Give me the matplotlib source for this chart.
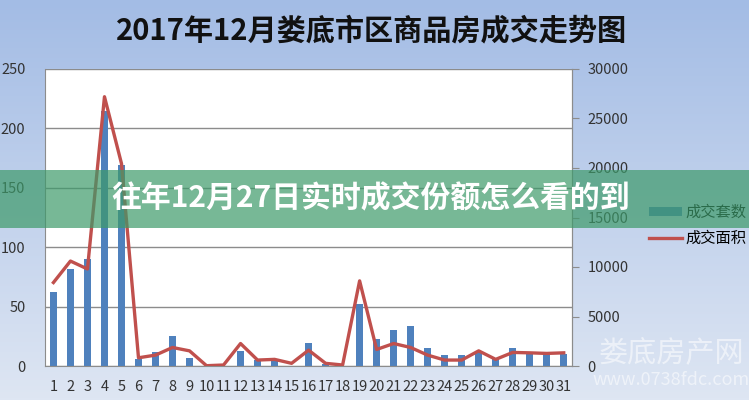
import numpy as np
import matplotlib
matplotlib.use("Agg")
import matplotlib.pyplot as plt
from matplotlib.patches import Rectangle

plt.rcParams['font.family'] = ['Noto Sans CJK SC', 'DejaVu Sans']

# datos
dias = list(range(1, 32))
etiquetas = [str(d) for d in dias]
conjuntos = [62, 82, 90, 215, 169, 6, 12, 25, 7, 0, 0, 13, 5, 4, 0, 19, 2, 0,
             52, 23, 30, 34, 15, 9, 9, 12, 6, 15, 10, 10, 10]
area = [8430, 10600, 9800, 27200, 20450, 830, 1100, 1870, 1530, 30, 100, 2270,
        600, 670, 270, 1600, 270, 100, 8600, 1670, 2270, 1870, 1100, 600, 600,
        1530, 670, 1370, 1330, 1270, 1330]

titulo = "2017年12月娄底市区商品房成交走势图"
banda = "往年12月27日实时成交份额怎么看的到"

fig = plt.figure(figsize=(7.49, 4.0), dpi=100)

# fondo degradado azul
bg = fig.add_axes([0, 0, 1, 1], zorder=-10)
top = np.array([163, 188, 229]) / 255
bot = np.array([222, 230, 243]) / 255
t = np.linspace(0, 1, 200)[:, None, None]
grad = top * (1 - t) + bot * t
bg.imshow(np.repeat(grad, 2, axis=1), aspect="auto", extent=[0, 1, 0, 1])
bg.axis("off")

ax = fig.add_axes([0.060, 0.085, 0.704, 0.7425])
ax.set_facecolor("white")
ax.bar(dias, conjuntos, width=0.42, color="#4F81BD", label="成交套数", zorder=2)
ax.set_ylim(0, 250)
ax.set_yticks(range(0, 251, 50))
ax.set_xlim(0.5, 31.5)
ax.set_xticks(dias)
ax.set_xticklabels(etiquetas)
ax.grid(axis="y", color="#8c8c8c", linewidth=1, zorder=0)
ax.tick_params(axis="y", length=0, labelsize=10.5, labelcolor="#333333", pad=14)
ax.tick_params(axis="x", length=0, labelsize=10.5, labelcolor="#333333", pad=10)
ax.spines["top"].set_visible(False)
for s in ["left", "bottom", "right"]:
    ax.spines[s].set_color("#8c8c8c")

ax2 = ax.twinx()
ax2.plot(dias, area, color="#C0504D", linewidth=2.4, label="成交面积", zorder=3)
ax2.set_ylim(0, 30000)
ax2.set_yticks(range(0, 30001, 5000))
ax2.tick_params(axis="y", length=5, color="#8c8c8c", labelsize=10.5,
                labelcolor="#333333", pad=6)
ax2.spines["top"].set_visible(False)
ax2.spines["right"].set_color("#8c8c8c")
ax2.spines["left"].set_visible(False)
ax2.spines["bottom"].set_visible(False)

h1, l1 = ax.get_legend_handles_labels()
h2, l2 = ax2.get_legend_handles_labels()
fig.legend(h1 + h2, l1 + l2, loc="upper left", bbox_to_anchor=(0.858, 0.505),
           frameon=False, fontsize=11, handlelength=2.2, handleheight=0.5,
           handletextpad=0.2, labelspacing=0.6, borderaxespad=0)

fig.text(0.496, 0.925, titulo, ha="center", va="center", fontsize=21,
         fontweight="bold", color="#111111")

# marca de agua
fig.text(0.896, 0.118, "娄底房产网", ha="center", va="center", fontsize=21,
         color="white", alpha=0.55, zorder=20)
fig.text(0.896, 0.05, "www.0738fdc.com", ha="center", va="center", fontsize=13,
         color="white", alpha=0.55, zorder=20)

# banda verde superpuesta
fig.patches.append(Rectangle((0, 0.43), 1, 0.145, transform=fig.transFigure,
                             facecolor="#3d9a6a", alpha=0.7, edgecolor="none",
                             zorder=30))
fig.text(0.495, 0.503, banda, ha="center", va="center", fontsize=21.5,
         fontweight="bold", color="white", zorder=31)

plt.savefig("out.png", dpi=100)
